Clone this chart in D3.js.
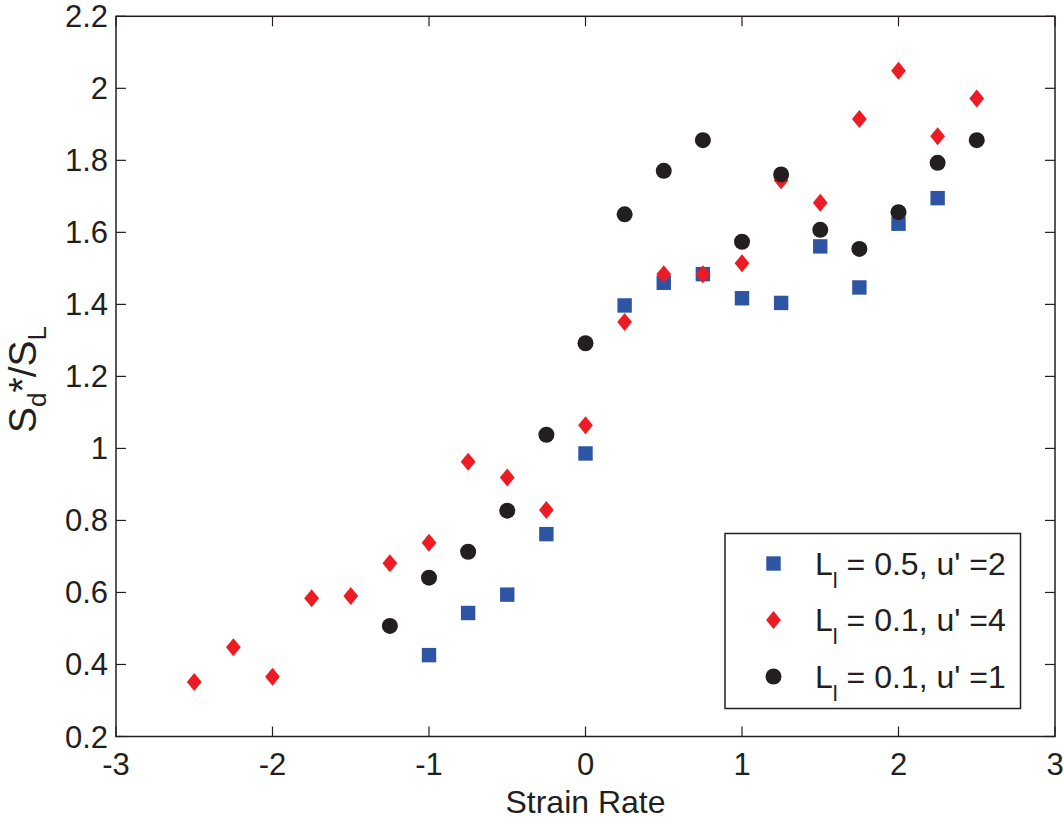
<!DOCTYPE html>
<html>
<head>
<meta charset="utf-8">
<script src="https://cdn.jsdelivr.net/npm/d3@7"></script>
<style>
  body { margin: 0; background: #fff; }
  svg text { font-family: "Liberation Sans", Arial, sans-serif; fill: #231f20; }
</style>
</head>
<body>
<div id="chart"></div>
<script>
// data
var blueX = [-1, -0.75, -0.5, -0.25, 0, 0.25, 0.5, 0.75, 1, 1.25, 1.5, 1.75, 2, 2.25];
var blueY = [0.426, 0.543, 0.594, 0.762, 0.986, 1.397, 1.46, 1.484, 1.417, 1.404, 1.561, 1.447, 1.624, 1.695];

var redX = [-2.5, -2.25, -2, -1.75, -1.5, -1.25, -1, -0.75, -0.5, -0.25, 0, 0.25, 0.5, 0.75, 1, 1.25, 1.5, 1.75, 2, 2.25, 2.5];
var redY = [0.351, 0.448, 0.366, 0.584, 0.59, 0.681, 0.738, 0.963, 0.919, 0.829, 1.064, 1.351, 1.484, 1.484, 1.514, 1.745, 1.682, 1.915, 2.049, 1.867, 1.972];

var blackX = [-1.25, -1, -0.75, -0.5, -0.25, 0, 0.25, 0.5, 0.75, 1, 1.25, 1.5, 1.75, 2, 2.25, 2.5];
var blackY = [0.507, 0.641, 0.713, 0.827, 1.038, 1.292, 1.65, 1.771, 1.856, 1.574, 1.761, 1.607, 1.554, 1.656, 1.793, 1.856];

var xTicks = [-3, -2, -1, 0, 1, 2, 3];
var yTicks = [0.2, 0.4, 0.6, 0.8, 1, 1.2, 1.4, 1.6, 1.8, 2, 2.2];
var legendLabels = [["0.5", "2"], ["0.1", "4"], ["0.1", "1"]];

function drawChart() {

  // Settings
  var width = 1064;
  var height = 819;
  var left = 116, right = 1055, top = 16.3, bottom = 736.5;
  var ink = "#231f20";
  var blue = "#2e54a4", red = "#ed1c24";
  var tickLen = 10;

  var svg = d3.select('#chart')
    .append('svg')
    .attr('width', width)
    .attr('height', height);

  var x = d3.scaleLinear().domain([-3, 3]).range([left, right]);
  var y = d3.scaleLinear().domain([0.2, 2.2]).range([bottom, top]);

  // axes box
  svg.append('rect')
    .attr('x', left).attr('y', top)
    .attr('width', right - left).attr('height', bottom - top)
    .attr('fill', 'none').attr('stroke', ink).attr('stroke-width', 1.5);

  // ticks, pointing inward on all four sides
  var tk = svg.append('g').attr('stroke', ink).attr('stroke-width', 1.2);
  xTicks.forEach(function(t) {
    tk.append('line').attr('x1', x(t)).attr('x2', x(t)).attr('y1', bottom).attr('y2', bottom - tickLen);
    tk.append('line').attr('x1', x(t)).attr('x2', x(t)).attr('y1', top).attr('y2', top + tickLen);
  });
  yTicks.forEach(function(t) {
    tk.append('line').attr('x1', left).attr('x2', left + tickLen).attr('y1', y(t)).attr('y2', y(t));
    tk.append('line').attr('x1', right).attr('x2', right - tickLen).attr('y1', y(t)).attr('y2', y(t));
  });

  // tick labels
  svg.selectAll('.xl')
    .data(xTicks)
    .enter()
    .append('text')
    .attr('class', 'xl')
    .attr('x', function(d) { return x(d); })
    .attr('y', bottom + 38.5)
    .attr('text-anchor', 'middle')
    .attr('font-size', 31)
    .text(function(d) { return d < 0 ? '-' + Math.abs(d) : d; });

  svg.selectAll('.yl')
    .data(yTicks)
    .enter()
    .append('text')
    .attr('class', 'yl')
    .attr('x', left - 8)
    .attr('y', function(d) { return y(d) + 11; })
    .attr('text-anchor', 'end')
    .attr('font-size', 31)
    .text(function(d) { return d3.format('~g')(d); });

  // axis titles
  svg.append('text')
    .attr('x', (left + right) / 2)
    .attr('y', 813)
    .attr('text-anchor', 'middle')
    .attr('font-size', 32)
    .text('Strain Rate');

  var yt = svg.append('text')
    .attr('transform', 'translate(36,433) rotate(-90)')
    .attr('text-anchor', 'start')
    .attr('font-size', 39);
  yt.append('tspan').text('S');
  yt.append('tspan').attr('dy', 10).attr('font-size', 26).text('d');
  yt.append('tspan').attr('dy', -10).text('*/S');
  yt.append('tspan').attr('dy', 10).attr('font-size', 26).text('L');

  // marker painters
  function square(g, cx, cy) {
    g.append('rect').attr('x', cx - 7.2).attr('y', cy - 7.2)
      .attr('width', 14.4).attr('height', 14.4).attr('fill', blue);
  }
  function diamond(g, cx, cy) {
    g.append('path')
      .attr('d', 'M' + cx + ',' + (cy - 9) + 'L' + (cx + 7.4) + ',' + cy + 'L' + cx + ',' + (cy + 9) + 'L' + (cx - 7.4) + ',' + cy + 'Z')
      .attr('fill', red);
  }
  function dot(g, cx, cy) {
    g.append('circle').attr('cx', cx).attr('cy', cy).attr('r', 8).attr('fill', ink);
  }

  var marks = svg.append('g');
  blueX.forEach(function(v, i) { square(marks, x(v), y(blueY[i])); });
  redX.forEach(function(v, i) { diamond(marks, x(v), y(redY[i])); });
  blackX.forEach(function(v, i) { dot(marks, x(v), y(blackY[i])); });

  // legend
  var lg = svg.append('g');
  lg.append('rect')
    .attr('x', 725).attr('y', 533.5).attr('width', 295.5).attr('height', 175)
    .attr('fill', '#fff').attr('stroke', ink).attr('stroke-width', 1.5);
  var rows = [563.5, 620, 676.5];
  var painters = [square, diamond, dot];
  rows.forEach(function(ry, i) {
    painters[i](lg, 773.5, ry);
    var t = lg.append('text').attr('x', 815).attr('y', ry + 11).attr('font-size', 32);
    t.append('tspan').text('L');
    t.append('tspan').attr('dy', 13).attr('font-size', 22).text('l');
    t.append('tspan').attr('dy', -13).text(' = ' + legendLabels[i][0] + ", u' =" + legendLabels[i][1]);
  });
}

drawChart();
</script>
</body>
</html>
